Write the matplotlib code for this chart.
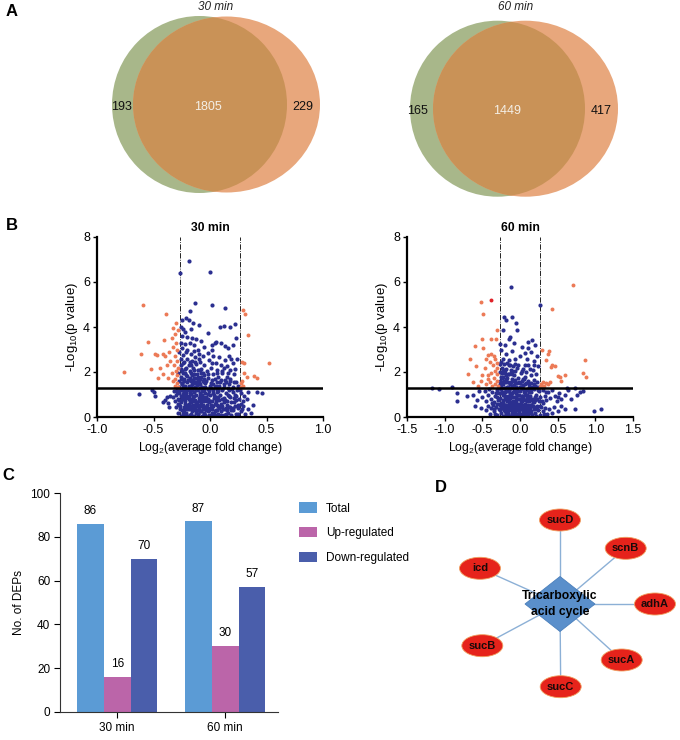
import matplotlib
matplotlib.use('Agg')
import matplotlib.pyplot as plt
from matplotlib.patches import Ellipse, Polygon

plt.rcParams['font.family'] = ['Liberation Sans', 'DejaVu Sans']
plt.rcParams['mathtext.default'] = 'regular'

# ---------------- data ----------------
venn_titles = ['30 min', '60 min']
venn_left_only = [193, 165]
venn_overlap = [1805, 1449]
venn_right_only = [229, 417]

fc_threshold = 0.263
p_threshold = 1.3

blue30 = [
    (-0.186, 6.95), (-0.265, 6.38), (0.0, 6.43), (-0.13, 5.08), (0.02, 4.96), (0.13, 4.83),
    (-0.18, 4.73), (-0.21, 4.4), (-0.19, 4.3), (-0.25, 4.3), (0.09, 4.01), (0.12, 4.04),
    (0.18, 3.98), (0.22, 4.13), (0.23, 3.5), (-0.02, 3.73), (-0.26, 4.0), (-0.24, 3.9),
    (-0.22, 3.8), (-0.17, 3.9), (-0.15, 4.2), (-0.1, 4.1), (-0.25, 3.6), (-0.2, 3.55),
    (-0.16, 3.5), (-0.12, 3.45), (-0.26, 3.3), (-0.22, 3.25), (-0.18, 3.3), (-0.14, 3.2),
    (-0.08, 3.4), (-0.05, 3.1), (0.05, 3.35), (0.1, 3.3), (0.13, 3.15), (0.16, 3.05),
    (0.2, 3.2), (-0.25, 3.05), (-0.2, 3.0), (-0.11, 3.0), (0.02, 3.0), (0.015, 3.2), (0.04, 3.3),
    (-0.27, 2.9), (-0.26, 2.6), (-0.26, 2.3), (-0.25, 2.05), (-0.24, 2.75), (-0.23, 2.45),
    (-0.22, 2.15), (-0.21, 2.9), (-0.2, 2.6), (-0.19, 2.3), (-0.18, 2.05), (-0.17, 2.8),
    (-0.16, 2.5), (-0.15, 2.2), (-0.14, 2.95), (-0.13, 2.65), (-0.12, 2.35), (-0.11, 2.1),
    (-0.1, 2.8), (-0.09, 2.45), (-0.08, 2.15), (-0.06, 2.7), (-0.05, 2.3), (-0.03, 2.05),
    (-0.01, 2.55), (0.01, 2.2), (0.03, 2.7), (0.05, 2.4), (0.06, 2.1), (0.08, 2.65), (0.1, 2.3),
    (0.11, 2.05), (0.13, 2.55), (0.15, 2.25), (0.17, 2.7), (0.18, 2.1), (0.2, 2.4), (0.22, 2.15),
    (0.24, 2.6), (-0.02, 2.85),
    (-0.28, 1.95), (-0.27, 1.6), (-0.27, 1.35), (-0.26, 1.8), (-0.25, 1.5), (-0.24, 1.95),
    (-0.23, 1.7), (-0.22, 1.4), (-0.21, 1.85), (-0.2, 1.55), (-0.19, 1.3), (-0.18, 1.75),
    (-0.17, 1.95), (-0.16, 1.45), (-0.15, 1.65), (-0.14, 1.9), (-0.13, 1.35), (-0.12, 1.55),
    (-0.11, 1.8), (-0.1, 1.45), (-0.09, 1.7), (-0.08, 1.95), (-0.07, 1.35), (-0.06, 1.6),
    (-0.05, 1.85), (-0.04, 1.5), (-0.02, 1.75), (0.0, 1.4), (0.02, 1.65), (0.03, 1.9),
    (0.04, 1.35), (0.06, 1.55), (0.07, 1.8), (0.08, 1.4), (0.1, 1.65), (0.11, 1.95), (0.12, 1.35),
    (0.14, 1.55), (0.15, 1.8), (0.17, 1.45), (0.18, 1.7), (0.2, 1.35), (0.21, 1.9), (0.23, 1.55),
    (0.25, 1.4), (-0.235, 1.35), (-0.155, 1.85), (-0.095, 1.55), (0.045, 1.7), (0.16, 1.3),
    (-0.33, 0.9), (-0.32, 1.15), (-0.31, 0.7), (-0.3, 1.0), (-0.29, 1.25), (-0.28, 0.8),
    (-0.27, 1.05), (-0.26, 0.65), (-0.25, 1.2), (-0.24, 0.9), (-0.23, 1.1), (-0.22, 0.7),
    (-0.21, 0.95), (-0.2, 1.2), (-0.19, 0.8), (-0.18, 1.05), (-0.17, 0.65), (-0.16, 1.25),
    (-0.15, 0.9), (-0.14, 1.1), (-0.13, 0.75), (-0.12, 1.0), (-0.11, 1.2), (-0.1, 0.85),
    (-0.09, 1.05), (-0.08, 0.65), (-0.07, 1.15), (-0.06, 0.9), (-0.05, 0.7), (-0.04, 1.05),
    (-0.02, 0.8), (0.0, 1.0), (0.02, 0.7), (0.03, 1.2), (0.05, 0.9), (0.06, 1.1), (0.08, 0.75),
    (0.09, 1.0), (0.11, 1.25), (0.12, 0.85), (0.14, 1.05), (0.15, 0.7), (0.17, 1.2), (0.18, 0.9),
    (0.2, 1.1), (0.21, 0.65), (0.23, 0.95), (0.24, 1.2), (0.26, 0.8), (0.27, 1.05), (0.29, 0.7),
    (0.3, 0.95), (-0.235, 0.8), (-0.145, 0.7), (-0.055, 1.2), (0.035, 0.85), (0.125, 0.65),
    (0.215, 0.85), (-0.185, 0.95), (0.075, 1.15),
    (-0.3, 0.45), (-0.28, 0.2), (-0.27, 0.55), (-0.25, 0.3), (-0.24, 0.1), (-0.23, 0.45),
    (-0.21, 0.2), (-0.2, 0.55), (-0.19, 0.35), (-0.18, 0.1), (-0.17, 0.4), (-0.16, 0.25),
    (-0.15, 0.55), (-0.14, 0.05), (-0.13, 0.3), (-0.12, 0.5), (-0.11, 0.15), (-0.1, 0.4),
    (-0.09, 0.25), (-0.08, 0.55), (-0.07, 0.05), (-0.06, 0.35), (-0.05, 0.15), (-0.04, 0.45),
    (-0.03, 0.02), (-0.02, 0.25), (-0.01, 0.1), (0.0, 0.4), (0.01, 0.03), (0.02, 0.2), (0.03, 0.5),
    (0.04, 0.1), (0.05, 0.3), (0.06, 0.55), (0.07, 0.15), (0.08, 0.4), (0.1, 0.25), (0.11, 0.5),
    (0.12, 0.1), (0.13, 0.35), (0.15, 0.55), (0.16, 0.2), (0.18, 0.45), (0.19, 0.1), (0.2, 0.3),
    (0.22, 0.5), (0.23, 0.15), (0.25, 0.4), (0.27, 0.25), (0.29, 0.5), (0.31, 0.15), (-0.26, 0.05),
    (-0.215, 0.4), (-0.125, 0.2), (-0.035, 0.3), (0.055, 0.05), (0.145, 0.4), (0.235, 0.05),
    (-0.165, 0.5), (0.095, 0.1),
    (-0.285, 0.6), (-0.275, 1.15), (-0.265, 0.35), (-0.255, 0.95), (-0.245, 1.45), (-0.235, 0.2),
    (-0.225, 0.6), (-0.215, 1.25), (-0.205, 0.35), (-0.195, 1.65), (-0.185, 0.55), (-0.175, 1.15),
    (-0.165, 0.15), (-0.155, 0.8), (-0.145, 1.5), (-0.135, 0.45), (-0.125, 1.2), (-0.115, 0.65),
    (-0.105, 1.65), (-0.095, 0.3), (-0.085, 0.95), (-0.075, 0.5), (-0.065, 1.3), (-0.055, 0.2),
    (-0.045, 0.75), (-0.035, 1.6), (-0.025, 0.55), (-0.015, 1.25), (-0.005, 0.65), (0.005, 1.5),
    (0.015, 0.35), (0.025, 1.05), (0.035, 0.15), (0.045, 0.6), (0.055, 1.4), (0.065, 0.3),
    (0.075, 0.9), (0.085, 1.55), (0.095, 0.6), (0.105, 1.2), (0.115, 0.35), (0.125, 1.45),
    (0.135, 0.75), (0.145, 0.15), (0.155, 1.0), (0.165, 0.45), (0.175, 1.6), (0.185, 0.65),
    (0.195, 1.25), (0.205, 0.4), (0.225, 1.0), (0.245, 0.55), (0.265, 1.2), (0.285, 0.35),
    (-0.29, 1.1), (-0.27, 0.75), (-0.25, 1.7), (-0.23, 0.3), (-0.21, 1.05), (-0.19, 0.6),
    (-0.17, 1.4), (-0.15, 0.35), (-0.13, 1.75), (-0.11, 0.55), (-0.09, 1.3), (-0.07, 0.8),
    (-0.05, 1.55), (-0.03, 0.7), (-0.01, 1.15), (0.01, 0.55), (0.03, 1.45), (0.05, 0.65),
    (0.07, 1.3), (0.09, 0.45), (0.11, 0.8), (0.13, 1.65), (0.15, 0.3), (0.17, 0.95), (0.19, 0.3),
    (0.21, 1.55), (0.23, 0.75), (0.25, 0.15), (0.27, 0.6),
    (-0.22, 1.95), (-0.18, 2.45), (-0.14, 2.1), (-0.1, 2.6), (-0.06, 1.95), (0.02, 2.4),
    (0.06, 1.95), (0.12, 2.2), (0.16, 1.95), (0.19, 2.6), (-0.24, 2.4), (-0.16, 1.2),
    (-0.262, 0.5), (-0.248, 0.78), (-0.238, 1.02), (-0.228, 1.28), (-0.218, 0.12), (-0.208, 0.85),
    (-0.198, 0.48), (-0.188, 1.38), (-0.178, 0.72), (-0.168, 1.02), (-0.158, 0.42), (-0.148, 1.3),
    (-0.138, 0.95), (-0.128, 0.62), (-0.118, 1.42), (-0.108, 0.12), (-0.098, 0.72), (-0.088, 1.48),
    (-0.078, 0.28), (-0.068, 0.98), (-0.058, 0.52), (-0.048, 1.32), (-0.038, 0.88), (-0.028, 0.42),
    (-0.018, 1.02), (-0.008, 0.32), (0.002, 0.72), (0.012, 1.28), (0.022, 0.48), (0.032, 0.98),
    (0.042, 0.28), (0.052, 0.82), (0.062, 1.25), (0.072, 0.48), (-0.232, 1.58), (-0.202, 1.82),
    (-0.172, 1.62), (-0.142, 1.72), (-0.112, 1.92), (-0.082, 1.78), (-0.052, 1.68), (-0.022, 1.92),
    (-0.212, 2.2), (-0.172, 2.3), (-0.132, 2.45), (-0.092, 2.1), (-0.258, 2.15), (-0.242, 1.2),
    (-0.198, 0.05), (-0.118, 0.3), (-0.048, 0.08),
    (-0.63, 1.02), (-0.51, 1.18), (-0.5, 1.1), (-0.49, 0.93), (-0.42, 0.65), (-0.4, 0.76),
    (-0.37, 0.64), (-0.38, 0.9), (-0.36, 0.45), (-0.35, 0.95), (0.34, 1.13), (0.42, 1.13),
    (0.46, 1.05), (0.34, 0.36), (0.38, 0.53), (0.33, 0.8), (0.36, 0.2),
]

orange30 = [
    (-0.59, 4.98), (-0.39, 4.58), (-0.33, 3.96), (-0.55, 3.35), (-0.41, 3.42), (-0.61, 2.79),
    (-0.47, 2.74), (-0.42, 2.78), (-0.40, 2.72), (-0.76, 2.02), (-0.52, 2.12), (-0.46, 1.72),
    (-0.34, 3.5), (-0.31, 3.7), (-0.30, 3.3), (-0.33, 3.1), (-0.29, 3.0), (-0.36, 2.9),
    (-0.31, 2.7), (-0.35, 2.5), (-0.29, 2.5), (-0.32, 2.3), (-0.38, 2.3), (-0.28, 2.2),
    (-0.30, 2.05), (-0.34, 1.95), (-0.29, 1.85), (-0.31, 1.7), (-0.33, 1.6), (-0.29, 1.5),
    (-0.31, 1.4), (-0.28, 1.35), (-0.44, 2.2), (-0.42, 1.9), (-0.37, 1.75), (-0.49, 2.8),
    (-0.3, 4.2), (-0.28, 3.85),
    (0.295, 4.75), (0.307, 4.6), (0.34, 3.64), (0.28, 2.46), (0.30, 2.41), (0.52, 2.38),
    (0.30, 1.94), (0.325, 1.79), (0.39, 1.84), (0.42, 1.72), (0.27, 1.5), (0.28, 1.6),
    (0.29, 1.4), (0.27, 1.35),
]

blue60 = [
    (-0.12, 5.79), (0.26, 4.98), (-0.21, 4.46), (-0.18, 4.31), (-0.11, 4.46), (-0.05, 4.16),
    (-0.23, 3.87), (-0.04, 3.87), (-0.13, 3.55), (-0.15, 3.45), (0.11, 3.35), (0.16, 3.42),
    (0.1, 3.05), (0.14, 2.9), (-0.27, 3.25), (-0.25, 3.0), (-0.2, 3.2), (-0.08, 3.3), (0.03, 3.1),
    (0.06, 2.85), (0.2, 3.2), (0.22, 2.7), (-0.18, 2.8), (-0.1, 2.95), (0.0, 2.7), (-0.06, 2.6),
    (0.09, 2.6), (0.18, 2.5), (-0.22, 2.6), (-0.14, 2.55),
    (-0.27, 2.35), (-0.26, 2.0), (-0.26, 1.6), (-0.25, 1.35), (-0.24, 2.2), (-0.23, 1.8),
    (-0.22, 1.45), (-0.21, 2.35), (-0.2, 1.95), (-0.19, 1.55), (-0.18, 2.15), (-0.17, 1.75),
    (-0.16, 1.35), (-0.15, 2.3), (-0.14, 1.9), (-0.13, 1.5), (-0.12, 2.1), (-0.11, 1.7),
    (-0.1, 1.4), (-0.09, 2.25), (-0.08, 1.85), (-0.07, 1.55), (-0.06, 2.05), (-0.05, 1.35),
    (-0.03, 1.75), (-0.02, 2.3), (0.0, 1.5), (0.01, 1.95), (0.03, 1.35), (0.04, 2.15),
    (0.05, 1.7), (0.07, 1.45), (0.08, 2.0), (0.1, 1.6), (0.11, 2.3), (0.12, 1.35), (0.14, 1.85),
    (0.15, 1.5), (0.17, 2.1), (0.18, 1.65), (0.2, 1.4), (0.21, 1.9), (0.23, 1.55), (0.24, 2.25),
    (0.25, 1.35), (-0.255, 1.8), (-0.195, 1.3), (-0.125, 1.95), (0.065, 1.8), (0.165, 1.3),
    (-0.5, 0.9), (-0.47, 1.15), (-0.45, 0.7), (-0.43, 1.0), (-0.41, 1.25), (-0.39, 0.8),
    (-0.37, 1.1), (-0.35, 0.65), (-0.33, 0.95), (-0.31, 1.2), (-0.29, 0.75), (-0.28, 1.05),
    (-0.26, 0.85), (-0.25, 1.25), (-0.23, 0.65), (-0.22, 1.0), (-0.2, 0.8), (-0.19, 1.15),
    (-0.17, 0.7), (-0.16, 0.95), (-0.14, 1.2), (-0.13, 0.85), (-0.11, 1.05), (-0.1, 0.65),
    (-0.08, 0.9), (-0.07, 1.2), (-0.05, 0.75), (-0.04, 1.0), (-0.02, 0.8), (0.0, 1.15),
    (0.01, 0.65), (0.03, 0.95), (0.04, 1.25), (0.06, 0.75), (0.07, 1.05), (0.09, 0.85),
    (0.1, 1.2), (0.12, 0.7), (0.13, 0.95), (0.15, 1.1), (0.16, 0.8), (0.18, 1.25), (0.19, 0.65),
    (0.21, 1.0), (0.23, 0.8), (0.25, 1.15), (0.27, 0.9), (0.29, 0.7), (0.31, 1.2), (0.33, 0.95),
    (0.35, 0.75), (0.37, 1.1), (0.4, 0.85), (0.43, 1.2), (0.46, 0.95), (0.49, 0.7), (0.52, 1.05),
    (0.55, 0.8), (0.6, 1.0), (0.64, 1.2),
    (-0.45, 0.3), (-0.42, 0.5), (-0.4, 0.15), (-0.38, 0.4), (-0.36, 0.55), (-0.34, 0.25),
    (-0.32, 0.45), (-0.3, 0.1), (-0.28, 0.35), (-0.27, 0.55), (-0.25, 0.2), (-0.24, 0.45),
    (-0.22, 0.05), (-0.21, 0.3), (-0.2, 0.55), (-0.19, 0.15), (-0.18, 0.4), (-0.16, 0.25),
    (-0.15, 0.5), (-0.14, 0.05), (-0.13, 0.35), (-0.12, 0.55), (-0.11, 0.15), (-0.1, 0.4),
    (-0.09, 0.25), (-0.08, 0.5), (-0.07, 0.05), (-0.06, 0.3), (-0.05, 0.55), (-0.04, 0.15),
    (-0.03, 0.4), (-0.02, 0.02), (-0.01, 0.25), (0.0, 0.5), (0.01, 0.1), (0.02, 0.35),
    (0.04, 0.55), (0.05, 0.2), (0.06, 0.45), (0.07, 0.05), (0.08, 0.3), (0.1, 0.5), (0.11, 0.15),
    (0.12, 0.4), (0.14, 0.25), (0.15, 0.55), (0.16, 0.1), (0.18, 0.35), (0.2, 0.2), (0.22, 0.5),
    (0.24, 0.3), (0.26, 0.1), (0.28, 0.45), (0.3, 0.25), (0.33, 0.4), (0.36, 0.15), (0.39, 0.35),
    (0.42, 0.2), (0.45, 0.45), (-0.175, 0.02), (-0.085, 0.12), (0.035, 0.22), (0.125, 0.02),
    (-0.265, 0.3), (0.215, 0.05),
    (-0.275, 0.8), (-0.265, 1.45), (-0.255, 0.4), (-0.245, 1.1), (-0.235, 1.95), (-0.225, 0.6),
    (-0.215, 1.3), (-0.205, 0.25), (-0.195, 0.95), (-0.185, 1.7), (-0.175, 0.45), (-0.165, 1.15),
    (-0.155, 0.15), (-0.145, 0.75), (-0.135, 1.45), (-0.125, 0.3), (-0.115, 1.0), (-0.105, 1.9),
    (-0.095, 0.6), (-0.085, 1.25), (-0.075, 0.35), (-0.065, 1.65), (-0.055, 0.9), (-0.045, 0.1),
    (-0.035, 1.3), (-0.025, 0.6), (-0.015, 1.55), (-0.005, 0.8), (0.005, 0.35), (0.015, 1.35),
    (0.025, 0.7), (0.035, 1.7), (0.045, 0.4), (0.055, 1.1), (0.065, 0.6), (0.075, 1.5),
    (0.085, 0.25), (0.095, 1.0), (0.105, 0.55), (0.115, 1.45), (0.135, 0.4), (0.145, 1.25),
    (0.155, 0.75), (0.175, 0.5), (0.185, 1.45), (0.195, 0.9), (0.225, 0.35), (0.235, 1.2),
    (0.255, 0.7),
    (-0.28, 1.3), (-0.26, 0.6), (-0.24, 1.55), (-0.22, 0.75), (-0.2, 1.1), (-0.18, 0.2),
    (-0.16, 1.55), (-0.14, 0.6), (-0.12, 1.3), (-0.1, 0.9), (-0.08, 1.6), (-0.06, 0.45),
    (-0.04, 1.15), (-0.02, 0.5), (0.0, 0.8), (0.02, 1.6), (0.04, 0.85), (0.06, 0.15), (0.08, 1.2),
    (0.1, 0.35), (0.12, 1.1), (0.14, 0.55), (0.16, 1.35), (0.2, 0.75), (0.22, 1.35),
    (-0.23, 2.1), (-0.19, 1.85), (-0.17, 2.4), (-0.13, 2.3), (-0.11, 2.05), (-0.07, 2.35),
    (-0.04, 2.2), (0.02, 2.05), (0.06, 2.3), (0.13, 2.15), (0.19, 2.3), (-0.255, 2.45),
    (-0.262, 1.05), (-0.248, 0.62), (-0.238, 1.72), (-0.228, 0.38), (-0.218, 1.62), (-0.208, 0.98),
    (-0.198, 2.1), (-0.188, 0.52), (-0.178, 1.32), (-0.168, 0.82), (-0.158, 1.92), (-0.148, 0.42),
    (-0.138, 1.05), (-0.128, 0.62), (-0.118, 1.55), (-0.108, 0.2), (-0.098, 1.12), (-0.088, 0.72),
    (-0.078, 1.42), (-0.068, 0.22), (-0.058, 1.05), (-0.048, 0.62), (-0.038, 1.52), (-0.028, 0.32),
    (-0.018, 0.98), (-0.008, 0.12), (0.002, 1.32), (0.012, 0.52), (0.022, 0.92), (0.032, 0.12),
    (0.042, 1.42), (0.052, 0.48), (0.062, 0.98), (0.072, 0.32), (0.092, 0.72), (0.112, 0.28),
    (0.132, 0.82), (0.152, 0.2), (0.172, 0.68), (0.192, 0.45), (-0.31, 0.58), (-0.33, 0.12),
    (-0.35, 0.35), (-0.37, 0.62), (-0.3, 0.88), (-0.32, 1.05), (0.27, 0.5), (0.3, 0.62),
    (0.32, 0.15), (0.34, 1.1),
    (-1.17, 1.27), (-1.07, 1.23), (-0.9, 1.35), (-0.83, 1.08), (-0.84, 0.69), (-0.71, 0.95),
    (-0.62, 0.98), (-0.57, 0.76), (-0.55, 1.15), (-0.6, 0.5), (-0.52, 0.4), (0.98, 0.27),
    (1.07, 0.34), (0.73, 0.34), (0.75, 1.0), (0.79, 1.12), (0.83, 1.14), (0.73, 1.3),
    (0.5, 0.9), (0.55, 0.5), (0.6, 0.35), (0.5, 0.25), (0.68, 0.8), (0.62, 1.28),
]

orange60 = [
    (-0.52, 5.12), (-0.49, 4.6), (-0.51, 3.47), (-0.39, 3.48), (-0.32, 3.45), (-0.6, 3.17),
    (-0.49, 3.05), (-0.3, 3.87), (-0.66, 2.56), (-0.69, 1.91), (-0.43, 2.75), (-0.38, 2.78),
    (-0.35, 2.72), (-0.33, 2.6), (-0.45, 2.6), (-0.40, 2.45), (-0.31, 2.4), (-0.36, 2.3),
    (-0.30, 2.2), (-0.33, 2.05), (-0.38, 1.95), (-0.42, 1.85), (-0.30, 1.9), (-0.35, 1.75),
    (-0.31, 1.6), (-0.40, 1.55), (-0.33, 1.45), (-0.29, 1.4), (-0.37, 1.4), (-0.45, 1.45),
    (-0.50, 1.85), (-0.52, 1.6), (-0.56, 1.4), (-0.62, 1.55), (-0.58, 2.25), (-0.47, 2.2),
    (-0.43, 1.7),
    (0.70, 5.87), (0.425, 4.79), (0.29, 2.98), (0.39, 2.95), (0.37, 2.8), (0.345, 2.53),
    (0.41, 2.24), (0.43, 2.31), (0.46, 2.26), (0.86, 2.53), (0.83, 1.94), (0.87, 1.76),
    (0.51, 1.84), (0.53, 1.76), (0.6, 1.87), (0.55, 1.61), (0.28, 1.45), (0.3, 1.55),
    (0.32, 1.4), (0.34, 1.5), (0.37, 1.45), (0.4, 1.55), (0.27, 1.35), (0.31, 1.32),
]
red60 = [(-0.39, 5.19)]

bar_groups = ['30 min', '60 min']
bar_series = ['Total', 'Up-regulated', 'Down-regulated']
bar_total = [86, 87]
bar_up = [16, 30]
bar_down = [70, 57]

network_hub = 'Tricarboxylic\nacid cycle'
network_genes = ['sucD', 'scnB', 'adhA', 'sucA', 'sucC', 'sucB', 'icd']

# ---------------- figure ----------------
W, H = 680, 740
fig = plt.figure(figsize=(W / 100, H / 100), dpi=100)

def fa(l, t, r, b):
    return [l / W, 1 - b / H, (r - l) / W, (b - t) / H]

ov = fig.add_axes([0, 0, 1, 1], zorder=0)
ov.set_xlim(0, W)
ov.set_ylim(H, 0)
ov.axis('off')

# panel letters
for letter, (x, y) in zip('ABCD', [(12, 11), (12, 226), (8, 476), (441, 487)]):
    ov.text(x, y, letter, fontsize=12, fontweight='bold', ha='center', va='center')

# ---- Venn diagrams ----
GREEN, ORANGE, OVER = '#a8b78a', '#e8a77c', '#c99257'
venn_geom = [
    dict(g=(199.5, 104.5, 175, 177), o=(226.5, 104.5, 187, 176), lx=121, cx=208, rx=303, ty=107, tx=216),
    dict(g=(497.5, 108.7, 175, 176), o=(525.5, 108.7, 185, 176), lx=418, cx=507, rx=601, ty=111, tx=516),
]
for i, gm in enumerate(venn_geom):
    gx, gy, gw, gh = gm['g']
    ox, oy, ow, oh = gm['o']
    ov.add_patch(Ellipse((gx, gy), gw, gh, facecolor=GREEN, edgecolor='none'))
    ov.add_patch(Ellipse((ox, oy), ow, oh, facecolor=ORANGE, edgecolor='none'))
    e3 = Ellipse((ox, oy), ow, oh, facecolor=OVER, edgecolor='none')
    ov.add_patch(e3)
    e3.set_clip_path(Ellipse((gx, gy), gw, gh, transform=ov.transData))
    ov.text(gm['tx'], 7, venn_titles[i], fontsize=8.5, style='italic', ha='center', va='center', color='#222222')
    ov.text(gm['lx'], gm['ty'], str(venn_left_only[i]), fontsize=9, ha='center', va='center', color='#111111')
    ov.text(gm['cx'], gm['ty'], str(venn_overlap[i]), fontsize=9, ha='center', va='center', color='#f4efe6')
    ov.text(gm['rx'], gm['ty'], str(venn_right_only[i]), fontsize=9, ha='center', va='center', color='#111111')

# ---- Volcano plots ----
BLUE_PT, ORANGE_PT, RED_PT = '#2b2f90', '#ec7a56', '#e02228'

def volcano(rect, blue, orange, red, xlim, xticks, title):
    ax = fig.add_axes(rect, zorder=2)
    ax.set_facecolor('none')
    ax.scatter([p[0] for p in blue], [p[1] for p in blue], s=9, color=BLUE_PT, linewidths=0, zorder=2)
    ax.scatter([p[0] for p in orange], [p[1] for p in orange], s=8, color=ORANGE_PT, linewidths=0, zorder=3)
    if red:
        ax.scatter([p[0] for p in red], [p[1] for p in red], s=8, color=RED_PT, linewidths=0, zorder=3)
    ax.axhline(p_threshold, color='black', lw=1.8, zorder=4)
    for v in (-fc_threshold, fc_threshold):
        ax.axvline(v, color='black', lw=0.6, ls='-.', zorder=1)
    ax.set_xlim(*xlim)
    ax.set_ylim(0, 8)
    ax.set_xticks(xticks)
    ax.set_xticklabels(['%.1f' % t for t in xticks])
    ax.set_yticks([0, 2, 4, 6, 8])
    for s in ('top', 'right'):
        ax.spines[s].set_visible(False)
    for s in ('left', 'bottom'):
        ax.spines[s].set_linewidth(1.6)
    ax.tick_params(labelsize=9, length=3, width=1, pad=2)
    ax.set_xlabel(r'Log$_{2}$(average fold change)', fontsize=8.7, labelpad=3)
    ax.set_ylabel(r'-Log$_{10}$(p value)', fontsize=9.5, labelpad=2)
    ax.set_title(title, fontsize=8.7, fontweight='bold', pad=4)
    return ax

volcano(fa(97, 237, 323, 417), blue30, orange30, [], (-1, 1), [-1.0, -0.5, 0.0, 0.5, 1.0], '30 min')
volcano(fa(407, 237, 633, 417), blue60, orange60, red60, (-1.5, 1.5),
        [-1.5, -1.0, -0.5, 0.0, 0.5, 1.0, 1.5], '60 min')

# ---- Bar chart ----
axb = fig.add_axes(fa(60, 493, 278, 712), zorder=2)
axb.set_facecolor('none')
bw = 0.248
cols = ['#5b9bd5', '#bb65a9', '#4a5eab']
vals = [bar_total, bar_up, bar_down]
xs = list(range(len(bar_groups)))
for k, (name, v, c) in enumerate(zip(bar_series, vals, cols)):
    pos = [x + (k - 1) * bw for x in xs]
    bars = axb.bar(pos, v, width=bw, color=c, label=name)
    for b, val in zip(bars, v):
        axb.annotate(str(val), (b.get_x() + b.get_width() / 2, val), xytext=(0, 5),
                     textcoords='offset points', ha='center', va='bottom', fontsize=8.5)
axb.set_xlim(-0.53, 1.49)
axb.set_ylim(0, 100)
axb.set_yticks(range(0, 101, 20))
axb.set_xticks(xs)
axb.set_xticklabels(bar_groups)
for s in ('top', 'right'):
    axb.spines[s].set_visible(False)
for s in ('left', 'bottom'):
    axb.spines[s].set_linewidth(0.8)
    axb.spines[s].set_color('#333333')
axb.tick_params(labelsize=8.5, length=4, width=0.8, pad=3)
axb.set_ylabel('No. of DEPs', fontsize=8.5, labelpad=4)
axb.legend(loc='upper left', bbox_to_anchor=(1.07, 0.985), frameon=False, fontsize=8.5,
           handlelength=1.5, handleheight=1.0, handletextpad=0.75, labelspacing=1.05, borderpad=0)

# ---- Network ----
hub = (560, 604)
node_pos = {'sucD': (560, 520), 'scnB': (625.7, 548.3), 'adhA': (655, 604), 'sucA': (621.7, 660),
            'sucC': (560.7, 686.7), 'sucB': (482.3, 645.7), 'icd': (480, 568.3)}
for g in network_genes:
    x, y = node_pos[g]
    ov.plot([hub[0], x], [hub[1], y], color='#8cb0d6', lw=1.0, zorder=1)
dw, dh = 70, 55
ov.add_patch(Polygon([(hub[0] - dw / 2, hub[1]), (hub[0], hub[1] - dh / 2),
                      (hub[0] + dw / 2, hub[1]), (hub[0], hub[1] + dh / 2)],
                     closed=True, facecolor='#5a8fcb', edgecolor='#4a7fbb', lw=0.6, zorder=2))
ov.text(hub[0], hub[1], network_hub, fontsize=8.7, fontweight='bold', ha='center', va='center',
        linespacing=1.35, zorder=4)
for g in network_genes:
    x, y = node_pos[g]
    ov.add_patch(Ellipse((x, y), 41, 22, facecolor='#e6231b', edgecolor='#f0a060', lw=0.6, zorder=3))
    ov.text(x, y, g, fontsize=8, fontweight='bold', ha='center', va='center', color='#1a0a0a', zorder=4)

fig.savefig('out.png', dpi=100)
